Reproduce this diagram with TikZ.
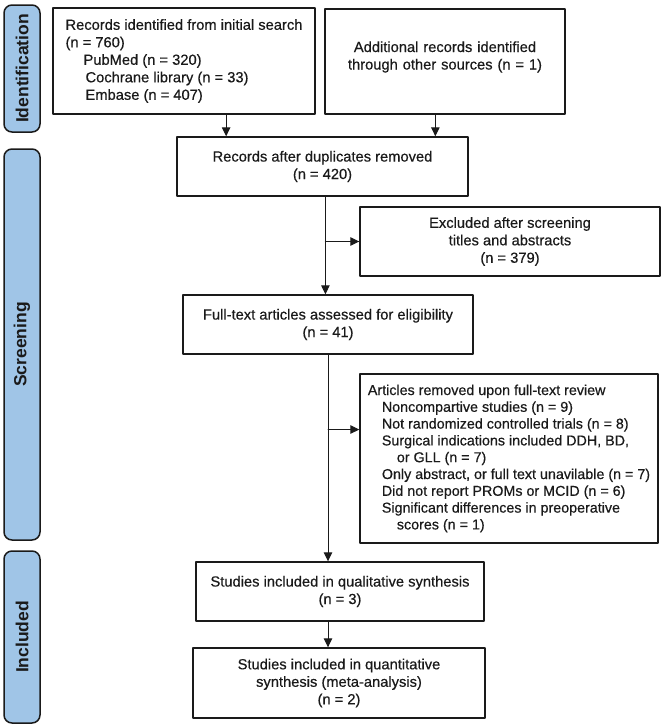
\documentclass[tikz,border=0pt]{standalone}
\usepackage{fontspec}
\setmainfont{Liberation Sans}
\newfontfamily\boxfont{Liberation Sans}[RawFeature={embolden=0.5}]
\usetikzlibrary{arrows.meta,calc}
\definecolor{tabblue}{RGB}{160,197,231}
\definecolor{ink}{RGB}{26,26,26}
\begin{document}
\begin{tikzpicture}[x=1pt,y=-1pt,line cap=round,line join=round,
    box/.style={draw=ink,line width=1.4pt,text=ink,inner sep=0pt,
      font=\boxfont\fontsize{14.7}{17.5}\selectfont},
    tab/.style={draw=ink,line width=1.5pt,fill=tabblue,rounded corners=8pt,rotate=90,
      minimum height=36pt,inner sep=0pt,text=ink,font=\fontsize{17.5}{20}\selectfont\bfseries},
    arr/.style={draw=ink,line width=1pt,-{Triangle[length=9pt,width=8.5pt]}}]
    \useasboundingbox (0,0) rectangle (664,728);
    \node[tab,minimum width=127pt] (tabid) at (22,68.5) {Identification};
    \node[tab,minimum width=391pt] (tabscr) at (22,344.5) {Screening};
    \node[tab,minimum width=172pt] (tabinc) at (22,637) {Included};
    \node[box,align=left,minimum width=262pt,minimum height=106pt] (search) at (184,61)
        {Records identified from initial search\\(n = 760)\\
         \hspace*{18pt}PubMed (n = 320)\\
         \hspace*{20pt}Cochrane library (n = 33)\\
         \hspace*{20pt}Embase (n = 407)};
    \node[box,align=center,text width=220pt,inner xsep=10pt,text height=43pt,text depth=62pt,anchor=base] (other) at (445,52)
        {Additional records identified\\through other sources (n = 1)};
    \node[box,align=center,minimum width=291pt,minimum height=59pt] (dup) at (322.5,166.5)
        {Records after duplicates removed\\(n = 420)};
    \node[box,align=center,minimum width=300pt,minimum height=69pt] (excl) at (510,241.5)
        {Excluded after screening\\titles and abstracts\\(n = 379)};
    \node[box,align=center,minimum width=290pt,minimum height=59pt] (full) at (328,324.5)
        {Full-text articles assessed for eligibility\\(n = 41)};
    \node[box,align=left,minimum width=298pt,minimum height=169pt,font=\boxfont\fontsize{14.3}{16.8}\selectfont] (rem) at (509,458.5)
        {Articles removed upon full-text review\\
         \hspace*{14pt}Noncompartive studies (n = 9)\\
         \hspace*{14pt}Not randomized controlled trials (n = 8)\\
         \hspace*{14pt}Surgical indications included DDH, BD,\\
         \hspace*{29pt}or GLL (n = 7)\\
         \hspace*{14pt}Only abstract, or full text unavilable (n = 7)\\
         \hspace*{14pt}Did not report PROMs or MCID (n = 6)\\
         \hspace*{14pt}Significant differences in preoperative\\
         \hspace*{29pt}scores (n = 1)};
    \node[box,align=center,minimum width=288pt,minimum height=59pt] (qual) at (340,591.5)
        {Studies included in qualitative synthesis\\(n = 3)};
    \node[box,align=center,minimum width=292pt,minimum height=70pt] (quant) at (339,683)
        {Studies included in quantitative\\synthesis (meta-analysis)\\(n = 2)};
    \draw[arr] ($(search.south west)!.66!(search.south east)$) coordinate (s1) -- (s1 |- dup.north);
    \draw[arr] ($(other.south west)!.46!(other.south east)$) coordinate (s2) -- (s2 |- dup.north);
    \draw[arr] ($(dup.south west)!.51!(dup.south east)$) coordinate (t1) -- (t1 |- full.north);
    \draw[arr] (t1 |- excl.west) -- (excl.west);
    \path ($(rem.north west)!.33!(rem.south west)$) coordinate (r1);
    \draw[arr] (full.south) -- (full.south |- qual.north);
    \draw[arr] (r1 -| full.south) -- (r1);
    \draw[arr] (qual.south -| full.south) -- (full.south |- quant.north);
\end{tikzpicture}
\end{document}
